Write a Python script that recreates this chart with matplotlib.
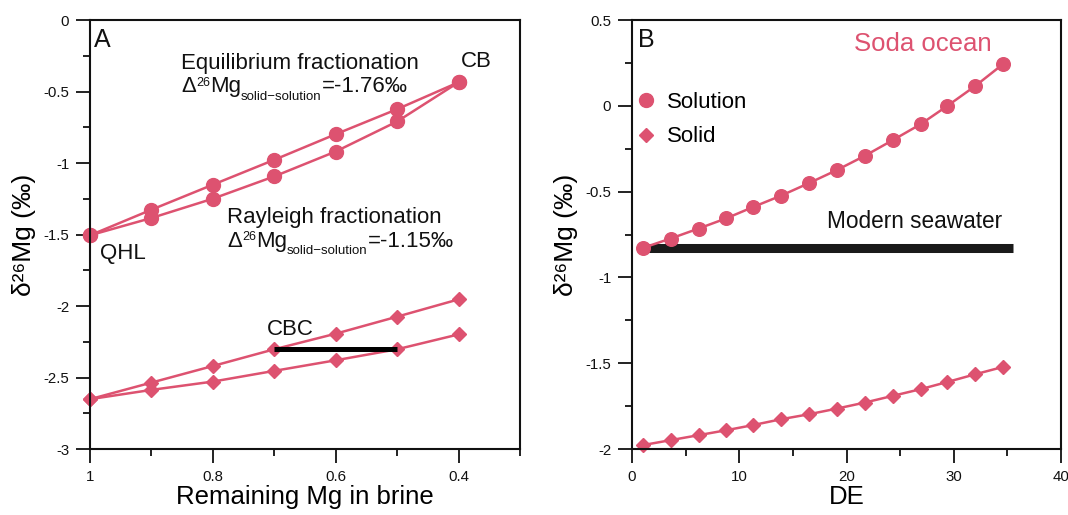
import matplotlib
matplotlib.use("Agg")
import matplotlib.pyplot as plt
from matplotlib.lines import Line2D
from matplotlib.ticker import MultipleLocator

plt.rcParams['font.family'] = ['Liberation Sans', 'Noto Sans CJK SC', 'DejaVu Sans']
plt.rcParams['axes.unicode_minus'] = False

PINK = '#dd5270'
INK = '#111111'

# panel A: remaining Mg fraction in brine
remaining_mg = [1.0, 0.9, 0.8, 0.7, 0.6, 0.5, 0.4]
sol_equilibrium = [-1.505, -1.326, -1.151, -0.977, -0.798, -0.623, -0.435]
sol_rayleigh = [-1.505, -1.384, -1.249, -1.093, -0.919, -0.709, -0.435]
solid_upper = [-2.651, -2.535, -2.419, -2.302, -2.193, -2.074, -1.953]
solid_lower = [-2.651, -2.586, -2.528, -2.453, -2.379, -2.302, -2.198]
cbc_x = [0.7, 0.5]
cbc_y = [-2.30, -2.30]

# panel B: soda ocean vs DE
de = [1.0, 3.6, 6.2, 8.8, 11.3, 13.9, 16.5, 19.1, 21.7, 24.3, 26.9, 29.4, 32.0, 34.6]
b_solution = [-0.828, -0.773, -0.715, -0.655, -0.589, -0.523, -0.450,
              -0.374, -0.291, -0.200, -0.107, 0.000, 0.116, 0.244]
b_solid = [-1.977, -1.948, -1.919, -1.890, -1.860, -1.826, -1.797,
           -1.764, -1.729, -1.690, -1.651, -1.609, -1.564, -1.521]
seawater_x = [1.3, 35.5]
seawater_y = [-0.83, -0.83]

ylab = 'δ²⁶Mg (‰)'

fig = plt.figure(figsize=(10.68, 5.15), dpi=100)
axA = fig.add_axes([0.0843, 0.128, 0.4026, 0.833])
axB = fig.add_axes([0.5918, 0.128, 0.4017, 0.833])


def style_axes(ax):
    for s in ax.spines.values():
        s.set_linewidth(1.5)
        s.set_color(INK)
    ax.tick_params(which='major', direction='out', length=10, width=1.3,
                   labelsize=10.8, pad=5, colors=INK)
    ax.tick_params(which='minor', direction='out', length=5, width=1.3,
                   colors=INK)


def rich(ax, x, y, parts):
    # chain text pieces so super/subscripts can have their own size
    s, size, shift = parts[0]
    prev = ax.text(x, y, s, fontsize=size, transform=ax.transAxes,
                   va='baseline', ha='left', color=INK)
    for s, size, shift in parts[1:]:
        prev = ax.annotate(s, xy=(1, y), xycoords=(prev, ax.transAxes),
                           xytext=(0, shift), textcoords='offset points',
                           fontsize=size, va='baseline', ha='left', color=INK)


lk = dict(color=PINK, lw=1.8, clip_on=False)
axA.plot(remaining_mg, sol_equilibrium, marker='o', ms=10, **lk)
axA.plot(remaining_mg, sol_rayleigh, marker='o', ms=10, **lk)
axA.plot(remaining_mg, solid_upper, marker='D', ms=7.5, **lk)
axA.plot(remaining_mg, solid_lower, marker='D', ms=7.5, **lk)
axA.plot(cbc_x, cbc_y, color='black', lw=3.6, solid_capstyle='butt')

axA.set_xlim(1.0, 0.3)
axA.set_ylim(-3, 0)
axA.xaxis.set_minor_locator(MultipleLocator(0.1))
axA.yaxis.set_minor_locator(MultipleLocator(0.25))
axA.set_xticks([1.0, 0.8, 0.6, 0.4])
axA.set_xticklabels(['1', '0.8', '0.6', '0.4'])
axA.set_yticks([0, -0.5, -1, -1.5, -2, -2.5, -3])
axA.set_yticklabels(['0', '-0.5', '-1', '-1.5', '-2', '-2.5', '-3'])
style_axes(axA)
axA.set_xlabel('Remaining Mg in brine', fontsize=18.5, labelpad=1)
axA.set_ylabel(ylab, fontsize=19, labelpad=5)

tk = dict(transform=axA.transAxes, va='baseline', ha='left', fontsize=16, color=INK)
axA.text(0.010, 0.937, 'A', **dict(tk, fontsize=18))
axA.text(0.212, 0.886, 'Equilibrium fractionation', **tk)
rich(axA, 0.212, 0.832, [('Δ', 16, 0), ('26', 9, 4.7), ('Mg', 16, 0),
                         ('solid−solution', 9.5, -5.3), ('=-1.76‰', 16, 0)])
axA.text(0.862, 0.890, 'CB', **tk)
axA.text(0.023, 0.443, 'QHL', **tk)
axA.text(0.319, 0.527, 'Rayleigh fractionation', **tk)
rich(axA, 0.319, 0.471, [('Δ', 16, 0), ('26', 9, 4.7), ('Mg', 16, 0),
                         ('solid−solution', 9.5, -5.3), ('=-1.15‰', 16, 0)])
axA.text(0.412, 0.266, 'CBC', **tk)

# panel B
axB.plot(seawater_x, seawater_y, color='#1a1a1a', lw=6.5, solid_capstyle='butt')
axB.plot(de, b_solution, marker='o', ms=9.8, **lk)
axB.plot(de, b_solid, marker='D', ms=7.2, **lk)
axB.set_xlim(0, 40)
axB.set_ylim(-2, 0.5)
axB.xaxis.set_major_locator(MultipleLocator(10))
axB.xaxis.set_minor_locator(MultipleLocator(5))
axB.yaxis.set_minor_locator(MultipleLocator(0.25))
axB.set_yticks([0.5, 0, -0.5, -1, -1.5, -2])
axB.set_yticklabels(['0.5', '0', '-0.5', '-1', '-1.5', '-2'])
style_axes(axB)
axB.set_xlabel('DE', fontsize=18.5, labelpad=1)
axB.set_ylabel(ylab, fontsize=19, labelpad=5)

tkb = dict(tk, transform=axB.transAxes)
axB.text(0.013, 0.937, 'B', **dict(tkb, fontsize=18))
axB.text(0.839, 0.928, 'Soda ocean', **dict(tkb, ha='right', fontsize=18.5, color=PINK))
axB.text(0.863, 0.515, 'Modern seawater', **dict(tkb, ha='right', fontsize=16.3))

handles = [Line2D([], [], color=PINK, marker='o', ms=10, ls='none'),
           Line2D([], [], color=PINK, marker='D', ms=7.5, ls='none')]
axB.legend(handles, ['Solution', 'Solid'], loc='upper left',
           bbox_to_anchor=(0.007, 0.832), frameon=False, fontsize=16,
           borderpad=0, borderaxespad=0, handletextpad=0.45,
           labelspacing=0.6, handlelength=1.0)

fig.savefig('out.png', dpi=100)
